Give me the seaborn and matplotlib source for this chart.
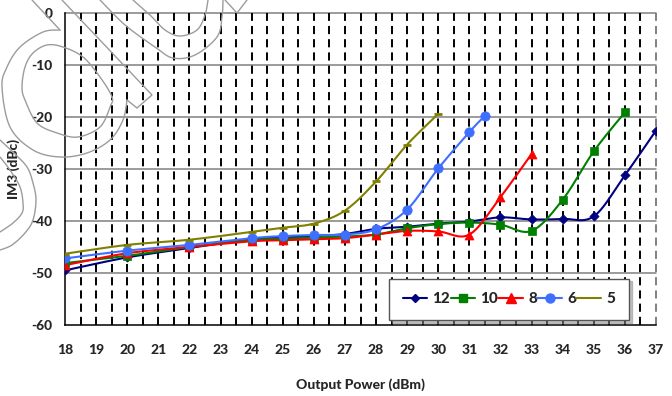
import numpy as np
import pandas as pd
import matplotlib
matplotlib.use("Agg")
import matplotlib.pyplot as plt
from matplotlib import font_manager
from matplotlib.lines import Line2D
import seaborn as sns

# ---- data: IM3 (dBc) versus output power (dBm), one series per supply setting ----
series_names = ["12", "10", "8", "6", "5"]

power_12 = [18, 20, 22, 24, 25, 26, 27, 28, 29, 30, 31, 32, 33, 34, 35, 36, 37]
im3_12 = [-49.5, -47.0, -45.2, -43.5, -43.2, -42.9, -42.5, -41.5, -41.1, -40.5,
          -40.1, -39.3, -39.7, -39.6, -39.1, -31.2, -22.6]

power_10 = [18, 20, 22, 24, 25, 26, 27, 28, 29, 30, 31, 32, 33, 34, 35, 36]
im3_10 = [-48.1, -46.7, -45.0, -43.7, -43.4, -43.2, -43.0, -42.6, -41.4, -40.6,
          -40.3, -40.7, -41.9, -35.9, -26.6, -19.1]

power_8 = [18, 20, 22, 24, 25, 26, 27, 28, 29, 30, 31, 32, 33]
im3_8 = [-48.5, -46.2, -45.0, -43.9, -43.7, -43.5, -43.3, -42.6, -41.9, -42.0,
         -42.6, -35.4, -27.1]

power_6 = [18, 20, 22, 24, 25, 26, 27, 28, 29, 30, 31, 31.5]
im3_6 = [-47.2, -45.7, -44.6, -43.3, -42.9, -42.7, -42.6, -41.6, -37.8, -29.9,
         -22.9, -19.75]

power_5 = [18, 20, 22, 24, 25, 26, 27, 28, 29, 30]
im3_5 = [-46.3, -44.6, -43.6, -42.1, -41.3, -40.5, -38.0, -32.4, -25.3, -19.4]

x_ticks = list(range(18, 38))
y_ticks = [-60, -50, -40, -30, -20, -10, 0]

colors = {"12": "#000080", "10": "#008000", "8": "#ff0000", "6": "#3f6fff", "5": "#808000"}
markers = {"12": "D", "10": "s", "8": "^", "6": "o", "5": "_"}
marker_sizes = {"12": 22, "10": 36, "8": 42, "6": 46, "5": 30}

powers = {"12": power_12, "10": power_10, "8": power_8, "6": power_6, "5": power_5}
im3s = {"12": im3_12, "10": im3_10, "8": im3_8, "6": im3_6, "5": im3_5}

points = pd.concat(
    [pd.DataFrame({"series": s, "power": powers[s], "im3": im3s[s]}) for s in series_names],
    ignore_index=True,
)

# screen scale (px per unit) used so the smoothing behaves like a chart-space spline
SX, SY = 31.1, 5.2


def bezier_smooth(xs, ys, sx=1.0, sy=1.0, n=30, closed=False):
    """Catmull-Rom style cubic Bezier through the given points."""
    P = np.column_stack([np.asarray(xs, float) * sx, np.asarray(ys, float) * sy])
    if closed:
        ext = np.vstack([P[-2], P, P[1]])
    else:
        ext = np.vstack([P[0], P, P[-1]])
    segs = []
    m = len(P) - 1
    for i in range(m):
        p0, p1, p2, p3 = ext[i], ext[i + 1], ext[i + 2], ext[i + 3]
        c1 = p1 + (p2 - p0) / 6.0
        c2 = p2 - (p3 - p1) / 6.0
        t = np.linspace(0, 1, n, endpoint=(i == m - 1))[:, None]
        segs.append((1 - t) ** 3 * p1 + 3 * (1 - t) ** 2 * t * c1
                    + 3 * (1 - t) * t ** 2 * c2 + t ** 3 * p2)
    out = np.vstack(segs)
    return out[:, 0] / sx, out[:, 1] / sy


curves = []
for s in series_names:
    cx, cy = bezier_smooth(powers[s], im3s[s], SX, SY)
    curves.append(pd.DataFrame({"series": s, "power": cx, "im3": cy}))
curves = pd.concat(curves, ignore_index=True)


def heaviest_face(candidates):
    """Family and weight of the heaviest installed face among the candidates."""
    names = {"bold": 700, "heavy": 800, "black": 900, "extra bold": 800,
             "ultrabold": 800, "semibold": 600, "demibold": 600}
    for fam in candidates:
        best = 0
        for f in font_manager.fontManager.ttflist:
            if f.name != fam or f.style != "normal":
                continue
            w = f.weight
            if isinstance(w, str):
                w = names.get(w.lower(), 400)
            best = max(best, int(w))
        if best >= 700:
            return fam, best
    return "DejaVu Sans", 700


# ---- figure ----
sns.set_style("white")
family, WEIGHT = heaviest_face(["Lato", "Open Sans", "Noto Sans", "Roboto", "Liberation Sans"])
plt.rcParams["font.family"] = [family, "DejaVu Sans"]
plt.rcParams["font.weight"] = WEIGHT
plt.rcParams["axes.unicode_minus"] = False

W, H = 672, 396
fig = plt.figure(figsize=(W / 100, H / 100), dpi=100)
ax = fig.add_axes([65 / W, 1 - 325 / H, 591 / W, 312 / H])

ax.set_xlim(18, 37)
ax.set_ylim(-60, 0)

# grid: solid grey horizontals, dashed black verticals every half unit
for yv in y_ticks[1:]:
    ax.axhline(yv, color="#808080", lw=1.1, zorder=1, clip_on=False)
for xv in np.arange(18.5, 37.01, 0.5):
    ax.axvline(xv, color="#808080" if xv >= 37 else "black", lw=1.4,
               ls=(0, (4.2, 2.6)), zorder=1, clip_on=False)

for s in series_names:
    sub = curves[curves["series"] == s]
    sns.lineplot(data=sub, x="power", y="im3", color=colors[s], lw=1.5,
                 sort=False, estimator=None, ax=ax, legend=False, zorder=3)
    psub = points[points["series"] == s]
    if markers[s] == "_":
        sns.scatterplot(data=psub, x="power", y="im3", color=colors[s], marker="_",
                        s=marker_sizes[s], linewidth=2.0, ax=ax, legend=False, zorder=4)
    else:
        sns.scatterplot(data=psub, x="power", y="im3", color=colors[s], marker=markers[s],
                        s=marker_sizes[s], edgecolor=colors[s], linewidth=0.5,
                        ax=ax, legend=False, zorder=4)

for side in ["top", "right"]:
    ax.spines[side].set_visible(False)
for side in ["left", "bottom"]:
    ax.spines[side].set_color("black")
    ax.spines[side].set_linewidth(1.1)
    ax.spines[side].set_zorder(2)

ax.set_xticks(x_ticks)
ax.set_xticklabels([str(v) for v in x_ticks])
ax.set_yticks(y_ticks)
ax.set_yticklabels([str(v) for v in y_ticks])
ax.tick_params(axis="x", direction="out", length=4, width=1.1, pad=10, labelsize=10)
ax.tick_params(axis="y", direction="out", length=4, width=1.1, pad=5, labelsize=10)
for lab in ax.get_xticklabels() + ax.get_yticklabels():
    lab.set_fontweight(WEIGHT)

ax.set_xlabel("Output Power (dBm)", fontsize=10, fontweight=WEIGHT)
ax.set_ylabel("IM3 (dBc)", fontsize=10, fontweight=WEIGHT)
ax.xaxis.label.set_va("center")
ax.yaxis.label.set_va("center")
ax.xaxis.set_label_coords(0.5, (325 - 385) / 312)
ax.yaxis.set_label_coords((14 - 65) / 591, 0.5)

handles = []
for s in series_names:
    handles.append(Line2D([], [], color=colors[s], lw=1.5,
                          marker=None if markers[s] == "_" else markers[s],
                          markersize={"12": 4.5, "10": 6, "8": 6.5, "6": 6.5, "5": 0}[s]))
leg = ax.legend(handles, series_names, loc="lower left", ncol=5, mode="expand",
                bbox_to_anchor=((389 - 65) / 591, (325 - 320) / 312, 240 / 591, 43 / 312),
                frameon=True, fancybox=False, shadow={"color": "#888888"},
                handlelength=1.6, handletextpad=0.35, columnspacing=0.5,
                borderpad=0.9, borderaxespad=0, prop={"weight": WEIGHT, "size": 11})
leg.get_frame().set_edgecolor("#555555")
leg.get_frame().set_linewidth(1.0)
leg.set_zorder(6)

# ---- faint grey outline artwork over the upper-left of the chart ----
def fig_line(xs, ys, smooth=True, closed=False):
    if smooth:
        xs, ys = bezier_smooth(xs, ys, closed=closed)
    xs = np.asarray(xs, float) / W
    ys = 1 - np.asarray(ys, float) / H
    fig.add_artist(Line2D(xs, ys, transform=fig.transFigure, color="#9c9c9c",
                          lw=1.0, zorder=10, solid_joinstyle="miter"))

# hook shape
fig_line([32, 60], [0, 30], smooth=False)
fig_line([60, 43, 20, 7, 2, 10, 33, 60, 87, 110, 123, 127],
         [30, 32, 47, 67, 87, 127, 150, 157, 153, 140, 120, 100])
fig_line([127, 137, 152, 62], [100, 108, 95, 0], smooth=False)
fig_line([112, 100, 83, 63, 47, 33, 25, 22, 25, 37, 57, 78, 100, 110, 112],
         [97, 77, 57, 47, 45, 53, 67, 87, 100, 123, 133, 137, 127, 107, 97], closed=True)
# top loops
fig_line([133, 150, 165, 180, 197, 205, 208], [0, 15, 30, 36, 30, 15, 0])
fig_line([100, 125, 155, 173, 195, 217, 222, 223], [0, 25, 47, 58, 55, 37, 17, 0])
fig_line([225, 237, 247], [0, 13, 0], smooth=False)
# left arcs
fig_line([0, 13, 27, 33, 36, 33, 25, 12, 0], [140, 152, 167, 183, 200, 220, 233, 245, 250])
fig_line([0, 10, 20, 23, 22, 13, 0], [157, 170, 187, 203, 213, 223, 232])

fig.savefig("out.png", dpi=100)
